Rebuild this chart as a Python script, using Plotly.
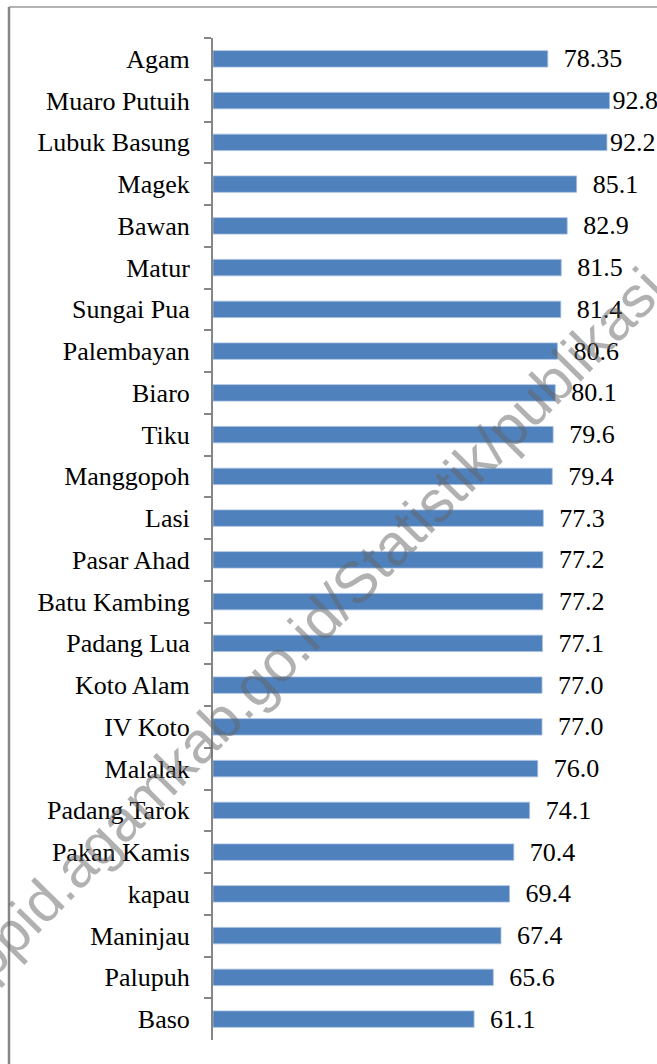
import plotly.graph_objects as go

categories = ["Agam", "Muaro Putuih", "Lubuk Basung", "Magek", "Bawan", "Matur",
              "Sungai Pua", "Palembayan", "Biaro", "Tiku", "Manggopoh", "Lasi",
              "Pasar Ahad", "Batu Kambing", "Padang Lua", "Koto Alam", "IV Koto",
              "Malalak", "Padang Tarok", "Pakan Kamis", "kapau", "Maninjau",
              "Palupuh", "Baso"]
values = [78.35, 92.8, 92.2, 85.1, 82.9, 81.5, 81.4, 80.6, 80.1, 79.6, 79.4, 77.3,
          77.2, 77.2, 77.1, 77.0, 77.0, 76.0, 74.1, 70.4, 69.4, 67.4, 65.6, 61.1]
value_labels = ["78.35", "92.8", "92.2", "85.1", "82.9", "81.5", "81.4", "80.6",
                "80.1", "79.6", "79.4", "77.3", "77.2", "77.2", "77.1", "77.0",
                "77.0", "76.0", "74.1", "70.4", "69.4", "67.4", "65.6", "61.1"]
watermark = "ppid.agamkab.go.id/Statistik/publikasi"

W, H = 657, 1064
L, R, T, B = 213, 0, 38, 24
pw, ph = W - L - R, H - T - B

def px(x):
    return (x - L) / pw

def py(y):
    return (H - B - y) / ph

# labels near the right edge sit tight against their bars, the rest get a gap
label_text = [t if v > 90 else "\u00a0\u00a0" + t for t, v in zip(value_labels, values)]

fig = go.Figure(go.Bar(
    x=values, y=categories, orientation="h",
    marker=dict(color="#4F81BD", line=dict(color="#A9C0E0", width=0.8)),
    text=label_text,
    textposition="outside", constraintext="none", cliponaxis=False,
    textfont=dict(family="Liberation Serif", size=26, color="#000000"),
    width=0.395,
))

fig.update_layout(
    width=W, height=H,
    margin=dict(l=L, r=R, t=T, b=B, pad=0),
    paper_bgcolor="white", plot_bgcolor="white",
    showlegend=False,
    font=dict(family="Liberation Serif", size=26, color="#000000"),
    xaxis=dict(range=[0, pw / 4.273], visible=False, showgrid=False, zeroline=False),
    yaxis=dict(autorange="reversed", showgrid=False, zeroline=False,
               showline=True, linecolor="#868686", linewidth=2,
               ticks="outside", tickson="boundaries", ticklen=7,
               tickcolor="#868686", tickwidth=2, ticklabelstandoff=16,
               tickfont=dict(family="Liberation Serif", size=26, color="#000000")),
    shapes=[
        dict(type="line", xref="paper", yref="paper", x0=px(9), x1=1.1,
             y0=py(7), y1=py(7), line=dict(color="#9A9A9A", width=1.5)),
        dict(type="line", xref="paper", yref="paper", x0=px(9), x1=px(9),
             y0=py(7), y1=-0.1, line=dict(color="#868686", width=2.5)),
    ],
    annotations=[dict(
        text=watermark, xref="paper", yref="paper", x=px(314), y=py(623),
        xanchor="center", yanchor="middle", showarrow=False, textangle=-45.5,
        font=dict(family="Liberation Sans", size=58, color="rgba(100,100,100,0.5)"),
    )],
)

fig.write_html("out.html", config={"displayModeBar": False},
               post_script="document.body.style.margin='0';document.body.style.overflow='hidden';")
